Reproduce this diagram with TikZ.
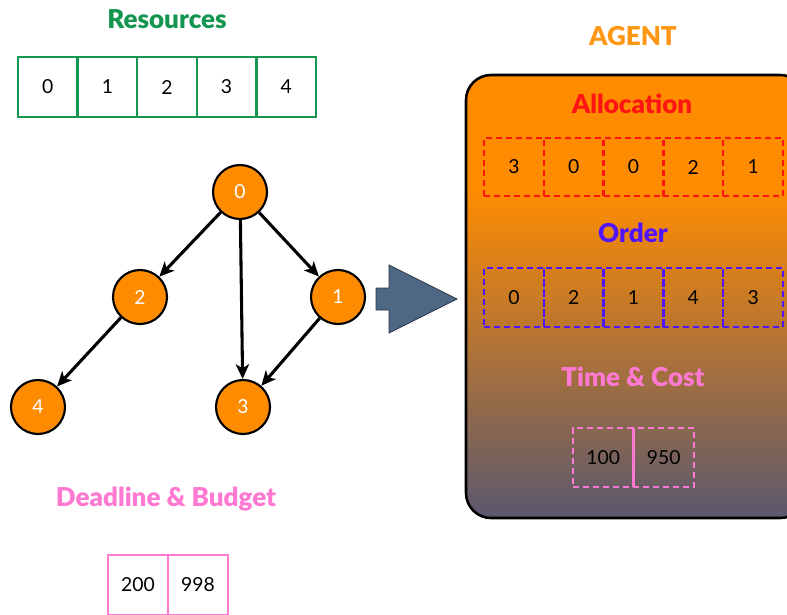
\documentclass[tikz,border=0pt]{standalone}
\usepackage{fontspec}
\setmainfont{Lato}
\newfontfamily\heavyfont{Lato Black}
\usetikzlibrary{arrows.meta}

\definecolor{resgreen}{RGB}{20,150,80}
\definecolor{agentorange}{RGB}{255,150,20}
\definecolor{nodeorange}{RGB}{255,140,0}
\definecolor{allocred}{RGB}{255,20,20}
\definecolor{orderblue}{RGB}{80,20,255}
\definecolor{tcpink}{RGB}{255,120,210}
\definecolor{slate}{RGB}{78,104,132}
\definecolor{slateedge}{RGB}{40,55,75}
\definecolor{gradmid}{RGB}{165,105,65}
\definecolor{gradbot}{RGB}{90,88,112}

\tikzset{
  title/.style={font=\heavyfont\fontsize{19.5}{22}\selectfont, inner sep=0pt},
  cellbase/.style={minimum height=45pt, inner sep=0pt, font=\fontsize{14.5}{16}\selectfont},
  rescell/.style={cellbase, draw=resgreen, line width=1.9pt, minimum width=44.7pt},
  alloccell/.style={cellbase, draw=allocred, line width=1.9pt, dash pattern=on 4.5pt off 3pt, minimum width=44.85pt, minimum height=43.5pt},
  ordercell/.style={cellbase, draw=orderblue, line width=1.9pt, dash pattern=on 4.5pt off 3pt, minimum width=44.85pt, minimum height=44.25pt},
  tccell/.style={cellbase, draw=tcpink, line width=1.9pt, dash pattern=on 4.5pt off 3pt, minimum width=45.4pt, minimum height=44.25pt},
  dbcell/.style={cellbase, draw=tcpink, line width=1.9pt, minimum width=45pt},
  task/.style={circle, draw=black, line width=1.6pt, fill=nodeorange, minimum size=40.5pt, inner sep=0pt, text=white, font=\fontsize{14.5}{16}\selectfont},
  dep/.style={line width=2.3pt, -{Stealth[length=11pt,width=10pt,inset=3pt]}}
}

\begin{document}
\begin{tikzpicture}[x=0.75pt, y=-0.75pt]
\useasboundingbox (0,0) rectangle (787,614);

% ---- resources ----
\node[title, text=resgreen] (restitle) at (167,19) {Resources};
\foreach \v [count=\i from 0] in {0,1,2,3,4}
  \node[rescell] (r\i) at ({47.8+59.6*\i},87) {\v};

% ---- task graph ----
\node[task] (t0) at (240,192) {0};
\node[task] (t2) at (140,297) {2};
\node[task] (t1) at (338,297) {1};
\node[task] (t4) at (38,407) {4};
\node[task] (t3) at (243,407) {3};
\draw[dep] (t0) -- (t2);
\draw[dep] (t0) -- (t3);
\draw[dep] (t0) -- (t1);
\draw[dep] (t2) -- (t4);
\draw[dep] (t1) -- (t3);

% ---- deadline & budget ----
\node[title, text=tcpink] (dbtitle) at (166,499) {Deadline \& Budget};
\node[dbcell] (db0) at (138,585) {200};
\node[dbcell] (db1) at (198,585) {998};

% ---- block arrow into the agent ----
\draw[fill=slate, draw=slateedge, line width=0.6pt]
  (376,288) -- (389,288) -- (389,265) -- (457,299) -- (389,333) -- (389,310) -- (376,310) -- cycle;

% ---- agent: orange on top, fading to grey-violet below ----
\node[title, text=agentorange] (agenttitle) at (633,36) {AGENT};
\begin{scope}
  \clip[rounded corners=18.75pt] (466,75) rectangle (805,518);
  \fill[nodeorange] (466,75) rectangle (805,191);
  \shade[top color=nodeorange, middle color=gradmid, bottom color=gradbot] (466,190) rectangle (805,518);
\end{scope}
\draw[rounded corners=18.75pt, line width=1.9pt] (466,75) rectangle (805,518);

\node[title, text=allocred] (alloctitle) at (632,104) {Allocation};
\foreach \v [count=\i from 0] in {3,0,0,2,1}
  \node[alloccell] (a\i) at ({513.9+59.8*\i},167) {\v};

\node[title, text=orderblue] (ordertitle) at (633,233) {Order};
\foreach \v [count=\i from 0] in {0,2,1,4,3}
  \node[ordercell] (o\i) at ({513.9+59.8*\i},297.5) {\v};

\node[title, text=tcpink] (tctitle) at (633,377) {Time \& Cost};
\node[tccell] (tc0) at (603.25,457.5) {100};
\node[tccell] (tc1) at (663.75,457.5) {950};
\end{tikzpicture}
\end{document}
